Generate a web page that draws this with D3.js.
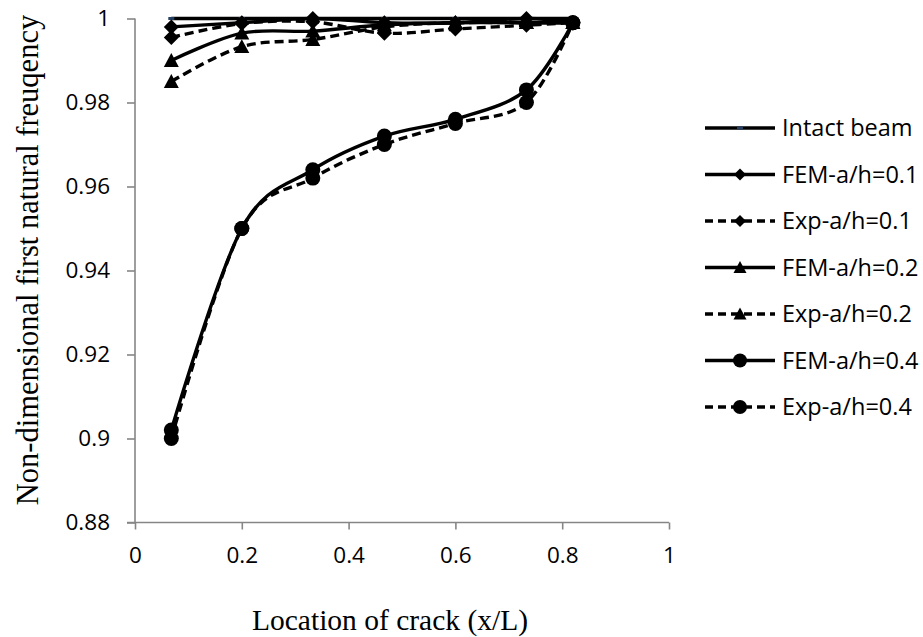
<!DOCTYPE html>
<html><head><meta charset="utf-8">
<script src="https://cdn.jsdelivr.net/npm/d3@7"></script>
<style>body{margin:0;background:#fff}svg{display:block}</style>
</head><body><svg id="c" width="923" height="637"></svg>
<script>
const crackLocation = [0.068, 0.2, 0.333, 0.467, 0.6, 0.733, 0.82];
const intactBeam = [1, 1, 1, 1, 1, 1, 1];
const femAh01 = [0.998, 0.999, 1.0, 0.999, 0.999, 1.0, 0.999];
const expAh01 = [0.9955, 0.9988, 0.9992, 0.9965, 0.9975, 0.9984, 0.999];
const femAh02 = [0.990, 0.9965, 0.997, 0.9985, 0.999, 0.999, 0.999];
const expAh02 = [0.985, 0.9933, 0.995, 0.998, 0.999, 0.999, 0.999];
const femAh04 = [0.902, 0.95, 0.964, 0.972, 0.976, 0.983, 0.999];
const expAh04 = [0.900, 0.95, 0.962, 0.970, 0.975, 0.980, 0.999];
const xTicks = [0, 0.2, 0.4, 0.6, 0.8, 1];
const yTicks = [0.88, 0.9, 0.92, 0.94, 0.96, 0.98, 1];
const seriesNames = ["Intact beam","FEM-a/h=0.1","Exp-a/h=0.1","FEM-a/h=0.2","Exp-a/h=0.2","FEM-a/h=0.4","Exp-a/h=0.4"];

const series = [
  {name: seriesNames[0], values: intactBeam, marker: "dash", dashed: false},
  {name: seriesNames[1], values: femAh01, marker: "diamond", dashed: false},
  {name: seriesNames[2], values: expAh01, marker: "diamond", dashed: true},
  {name: seriesNames[3], values: femAh02, marker: "triangle", dashed: false},
  {name: seriesNames[4], values: expAh02, marker: "triangle", dashed: true},
  {name: seriesNames[5], values: femAh04, marker: "circle", dashed: false},
  {name: seriesNames[6], values: expAh04, marker: "circle", dashed: true}
];

const svg = d3.select("#c");
const x = d3.scaleLinear().domain([0,1]).range([135, 669]);
const y = d3.scaleLinear().domain([0.88,1]).range([522.5, 18.5]);
const axisColor = "#868686";
const tickFont = "'Open Sans', sans-serif";

// axes
const xa = svg.append("g").attr("transform","translate(0,522.5)")
  .call(d3.axisBottom(x).tickValues(xTicks).tickSize(7).tickSizeOuter(0).tickPadding(18)
    .tickFormat(d => d3.format("")(+d.toFixed(2))));
const ya = svg.append("g").attr("transform","translate(135,0)")
  .call(d3.axisLeft(y).tickValues(yTicks).tickSize(8).tickSizeOuter(0).tickPadding(17)
    .tickFormat(d => d3.format("")(+d.toFixed(2))));
[xa, ya].forEach(a => {
  a.selectAll("path,line").attr("stroke", axisColor).attr("stroke-width", 1.6);
  a.selectAll("text").attr("font-family", tickFont).attr("font-size", 22.5).attr("fill", "#000");
});
ya.select("path.domain").attr("d", `M0,${y(1)}V${y(0.88)}`);
xa.select("path.domain").attr("d", `M127,0H${x(1)}`);

// axis titles
svg.append("text").attr("x", 390).attr("y", 630).attr("text-anchor","middle")
  .attr("font-family","'Liberation Serif', 'Times New Roman', serif").attr("font-size", 29.5)
  .text("Location of crack (x/L)");
svg.append("text").attr("transform","translate(38,260) rotate(-90)").attr("text-anchor","middle")
  .attr("font-family","'Liberation Serif', 'Times New Roman', serif").attr("font-size", 30.5)
  .text("Non-dimensional first natural freuqency");

const line = d3.line().x((d,i) => x(crackLocation[i])).y(d => y(d)).curve(d3.curveCardinal.tension(0));

function drawMarker(g, type, cx, cy, s) {
  if (type === "diamond") {
    g.append("path").attr("d", `M${cx},${cy - s}L${cx + s},${cy}L${cx},${cy + s}L${cx - s},${cy}Z`).attr("fill","#000");
  } else if (type === "triangle") {
    g.append("path").attr("d", `M${cx},${cy - s}L${cx + s},${cy + s*0.85}L${cx - s},${cy + s*0.85}Z`).attr("fill","#000");
  } else if (type === "circle") {
    g.append("circle").attr("cx",cx).attr("cy",cy).attr("r",s).attr("fill","#000");
  } else if (type === "dash") {
    g.append("rect").attr("x",cx-3).attr("y",cy-1.5).attr("width",6).attr("height",3).attr("fill","#243f60");
  }
}
const markerSize = {diamond: 7.5, triangle: 7.5, circle: 7.5, dash: 0};
const legendMarkerSize = {diamond: 6, triangle: 6.5, circle: 7, dash: 0};

series.forEach(s => {
  const g = svg.append("g");
  g.append("path").datum(s.values).attr("d", line).attr("fill","none").attr("stroke","#000")
    .attr("stroke-width", 3.4).attr("stroke-dasharray", s.dashed ? "9,5" : null);
  s.values.forEach((v,i) => drawMarker(g, s.marker, x(crackLocation[i]), y(v), markerSize[s.marker]));
});

// legend
const legY0 = 128, legStep = 46.5;
series.forEach((s,i) => {
  const g = svg.append("g");
  const ly = legY0 + i*legStep;
  g.append("line").attr("x1",705).attr("x2",775).attr("y1",ly).attr("y2",ly)
    .attr("stroke","#000").attr("stroke-width",3.4).attr("stroke-dasharray", s.dashed ? "8,5" : null);
  drawMarker(g, s.marker, 740, ly, legendMarkerSize[s.marker]);
  g.append("text").attr("x",782).attr("y",ly).attr("dy","0.35em")
    .attr("font-family", tickFont).attr("font-size", 23.5).text(s.name);
});
</script></body></html>
